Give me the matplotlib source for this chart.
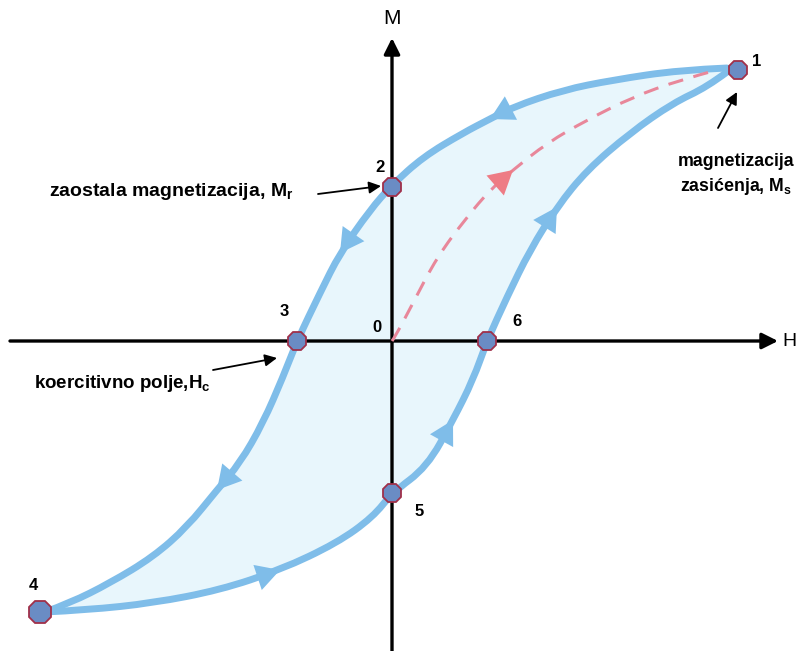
import matplotlib.pyplot as plt
from matplotlib.path import Path
from matplotlib.patches import PathPatch

plt.rcParams['font.family'] = ['Liberation Sans', 'DejaVu Sans']
plt.rcParams['mathtext.fontset'] = 'custom'
plt.rcParams['mathtext.rm'] = 'Liberation Sans'
plt.rcParams['mathtext.bf'] = 'Liberation Sans:bold'
plt.rcParams['mathtext.it'] = 'Liberation Sans:italic'

# petlja histereze, ocitano sa slike (H, M)
down_H = [3.35, 2.88, 2.21, 1.71, 1.21, 0.98, 0.71, 0.31, 0.0, -0.22, -0.52, -0.72,
          -0.95, -1.09, -1.29, -1.52, -1.75, -2.05, -2.39, -2.82, -3.22, -3.47]
down_M = [2.73, 2.71, 2.61, 2.51, 2.34, 2.22, 2.08, 1.84, 1.56, 1.31, 0.88, 0.48,
          0.0, -0.36, -0.82, -1.22, -1.49, -1.86, -2.16, -2.42, -2.62, -2.71]

up_H = [-3.47, -3.05, -2.39, -1.72, -1.12, -0.55, -0.19, 0.0, 0.35, 0.61, 0.81,
        0.95, 1.15, 1.38, 1.65, 1.95, 2.38, 2.81, 3.15, 3.35]
up_M = [-2.71, -2.69, -2.62, -2.49, -2.29, -2.02, -1.76, -1.52, -1.26, -0.79, -0.39,
        0.0, 0.44, 0.91, 1.34, 1.71, 2.08, 2.38, 2.54, 2.69]

# krivulja prvog magnetiziranja
init_H = [0.0, 0.03, 0.21, 0.45, 0.75, 0.98, 1.21, 1.55, 1.95, 2.41, 2.88, 3.25]
init_M = [0.0, 0.04, 0.38, 0.84, 1.24, 1.51, 1.71, 1.98, 2.21, 2.44, 2.61, 2.71]

# karakteristicne tocke 1-6
pts_H = [3.46, 0.0, -0.95, -3.52, 0.0, 0.95]
pts_M = [2.71, 1.54, 0.0, -2.71, -1.52, 0.0]
pts_lbl = ['1', '2', '3', '4', '5', '6']

line_c = '#7fbde9'
fill_c = '#e8f6fc'
red_c = '#e8879a'

fig = plt.figure(figsize=(7.98, 6.51), dpi=100)
ax = fig.add_axes([0, 0, 1, 1])
ax.set_xlim(-3.92, 4.06)
ax.set_ylim(-3.10, 3.41)
ax.axis('off')


def smooth(xs, ys):
    # kvadratne bezier krivulje kroz polovista, tocke sa slike su kontrolne
    p = list(zip(xs, ys))
    verts = [p[0]]
    codes = [Path.MOVETO]
    for i in range(1, len(p) - 1):
        if i == len(p) - 2:
            end = p[-1]
        else:
            end = ((p[i][0] + p[i + 1][0]) / 2, (p[i][1] + p[i + 1][1]) / 2)
        verts += [p[i], end]
        codes += [Path.CURVE3, Path.CURVE3]
    return Path(verts, codes)


# ispuna petlje
ax.fill(down_H + up_H, down_M + up_M, color=fill_c, lw=0, zorder=1)

# osi
ax.annotate('', xy=(0, 3.03), xytext=(0, -3.12),
            arrowprops=dict(arrowstyle='-|>', lw=2.4, color='k', mutation_scale=24,
                            shrinkA=0, shrinkB=0), zorder=3)
ax.annotate('', xy=(3.86, 0), xytext=(-3.82, 0),
            arrowprops=dict(arrowstyle='-|>', lw=2.4, color='k', mutation_scale=24,
                            shrinkA=0, shrinkB=0), zorder=3)
ax.text(0, 3.23, 'M', fontsize=15, ha='center', va='center')
ax.text(3.97, -0.01, 'H', fontsize=14, ha='center', va='center')
ax.text(-0.15, 0.14, '0', fontsize=12, fontweight='bold', ha='center', va='center')

# grane petlje
for xs, ys in [(down_H, down_M), (up_H, up_M)]:
    ax.add_patch(PathPatch(smooth(xs, ys), fc='none', ec=line_c, lw=5,
                           capstyle='round', zorder=4))
ax.add_patch(PathPatch(smooth(init_H, init_M), fc='none', ec=red_c, lw=2.2,
                       ls=(0, (5, 3.5)), zorder=4))


def flow_arrow(xs, ys, i, c):
    ax.annotate('', xy=(xs[i], ys[i]), xytext=(xs[i - 1], ys[i - 1]),
                arrowprops=dict(arrowstyle='-|>,head_length=0.5,head_width=0.28',
                                lw=0, color=c, mutation_scale=34,
                                shrinkA=0, shrinkB=0), zorder=5)


for i in [5, 10, 16]:
    flow_arrow(down_H, down_M, i, line_c)
for i in [4, 9, 14]:
    flow_arrow(up_H, up_M, i, line_c)
flow_arrow(init_H, init_M, 6, '#ee7c85')

# tocke
for k in range(6):
    ms = 17 if pts_lbl[k] == '4' else 14
    ax.plot(pts_H[k], pts_M[k], marker='8', ms=ms, mfc='#6a8cc4', mec='#a0304a',
            mew=1.3, zorder=6)

lbl_off = [(0.19, 0.09), (-0.12, 0.19), (-0.13, 0.29), (-0.07, 0.27), (0.27, -0.19), (0.30, 0.19)]
for k in range(6):
    ax.text(pts_H[k] + lbl_off[k][0], pts_M[k] + lbl_off[k][1], pts_lbl[k],
            fontsize=12, fontweight='bold', ha='center', va='center')

# opisi
ax.text(-3.43, 1.50, r'zaostala magnetizacija, $\mathbf{M_r}$', fontsize=14,
        fontweight='bold', ha='left', va='center')
ax.annotate('', xy=(-0.11, 1.55), xytext=(-0.74, 1.47),
            arrowprops=dict(arrowstyle='-|>', lw=1.3, color='k', mutation_scale=18,
                            shrinkA=0, shrinkB=0))

ax.text(-3.58, -0.42, r'koercitivno polje,$\mathbf{H_c}$', fontsize=13.5,
        fontweight='bold', ha='left', va='center')
ax.annotate('', xy=(-1.15, -0.17), xytext=(-1.79, -0.29),
            arrowprops=dict(arrowstyle='-|>', lw=1.3, color='k', mutation_scale=18,
                            shrinkA=0, shrinkB=0))

ax.text(3.44, 1.66, 'magnetizacija\n' + r'zasićenja, $\mathbf{M_s}$', fontsize=12.8,
        fontweight='bold', ha='center', va='center', linespacing=1.45)
ax.annotate('', xy=(3.45, 2.49), xytext=(3.26, 2.13),
            arrowprops=dict(arrowstyle='-|>', lw=1.3, color='k', mutation_scale=18,
                            shrinkA=0, shrinkB=0))

fig.savefig('out.png', dpi=100)
